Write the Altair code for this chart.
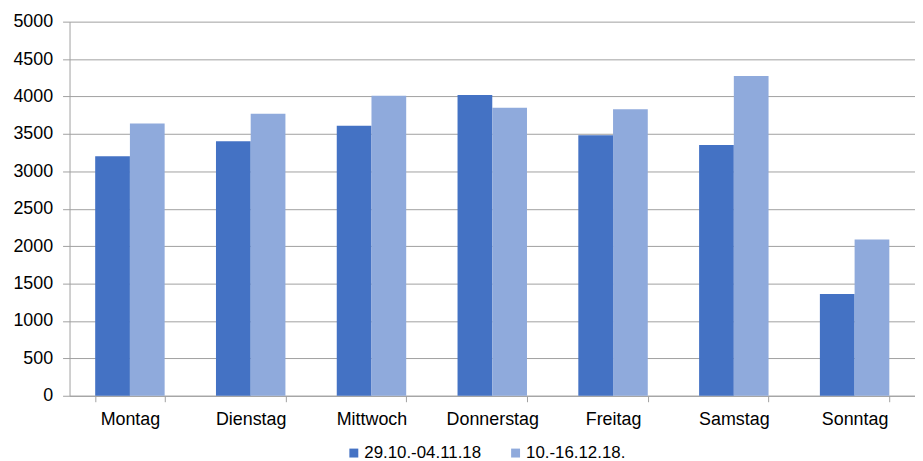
import altair as alt
import pandas as pd

days = ["Montag", "Dienstag", "Mittwoch", "Donnerstag", "Freitag", "Samstag", "Sonntag"]
series = ["29.10.-04.11.18", "10.-16.12.18."]
week1 = [3200, 3400, 3610, 4020, 3480, 3350, 1360]
week2 = [3640, 3770, 4010, 3850, 3830, 4275, 2090]
colors = ["#4472C4", "#8FAADC"]

rows = []
for d, a, b in zip(days, week1, week2):
    rows.append({"Tag": d, "Zeitraum": series[0], "Wert": a})
    rows.append({"Tag": d, "Zeitraum": series[1], "Wert": b})
df = pd.DataFrame(rows)

FONT = "Liberation Sans"

chart = alt.Chart(df).mark_bar().encode(
    x=alt.X("Tag:N", sort=days, title=None,
            scale=alt.Scale(paddingInner=0.425, paddingOuter=0.2125),
            axis=alt.Axis(labelAngle=0, tickBand="extent", tickSize=6, tickColor="#a0a0a0",
                          domainColor="#a0a0a0", labelPadding=9, labelFontSize=18,
                          labelFont=FONT, labelColor="#000000", grid=False)),
    xOffset=alt.XOffset("Zeitraum:N", sort=series),
    y=alt.Y("Wert:Q", title=None,
            scale=alt.Scale(domain=[0, 5000], nice=False),
            axis=alt.Axis(values=list(range(0, 5001, 500)), format="d", tickSize=7,
                          tickColor="#a0a0a0", domainColor="#a0a0a0", gridColor="#a0a0a0",
                          labelPadding=10, labelFontSize=18, labelFont=FONT,
                          labelColor="#000000")),
    color=alt.Color("Zeitraum:N", sort=series,
                    scale=alt.Scale(domain=series, range=colors),
                    legend=alt.Legend(title=None, orient="none", direction="horizontal",
                                      legendX=278, legendY=426, symbolType="square",
                                      symbolSize=81, symbolStrokeWidth=0, labelOffset=2,
                                      columnPadding=26, labelFontSize=17, labelFont=FONT,
                                      labelColor="#000000")),
).properties(
    width=852, height=377,
    padding={"left": 62, "top": 12, "right": 0, "bottom": 64},
    autosize=alt.AutoSizeParams(type="none"),
).configure_view(stroke=None)

chart.save("out.html", embed_options={"renderer": "svg", "actions": False})
